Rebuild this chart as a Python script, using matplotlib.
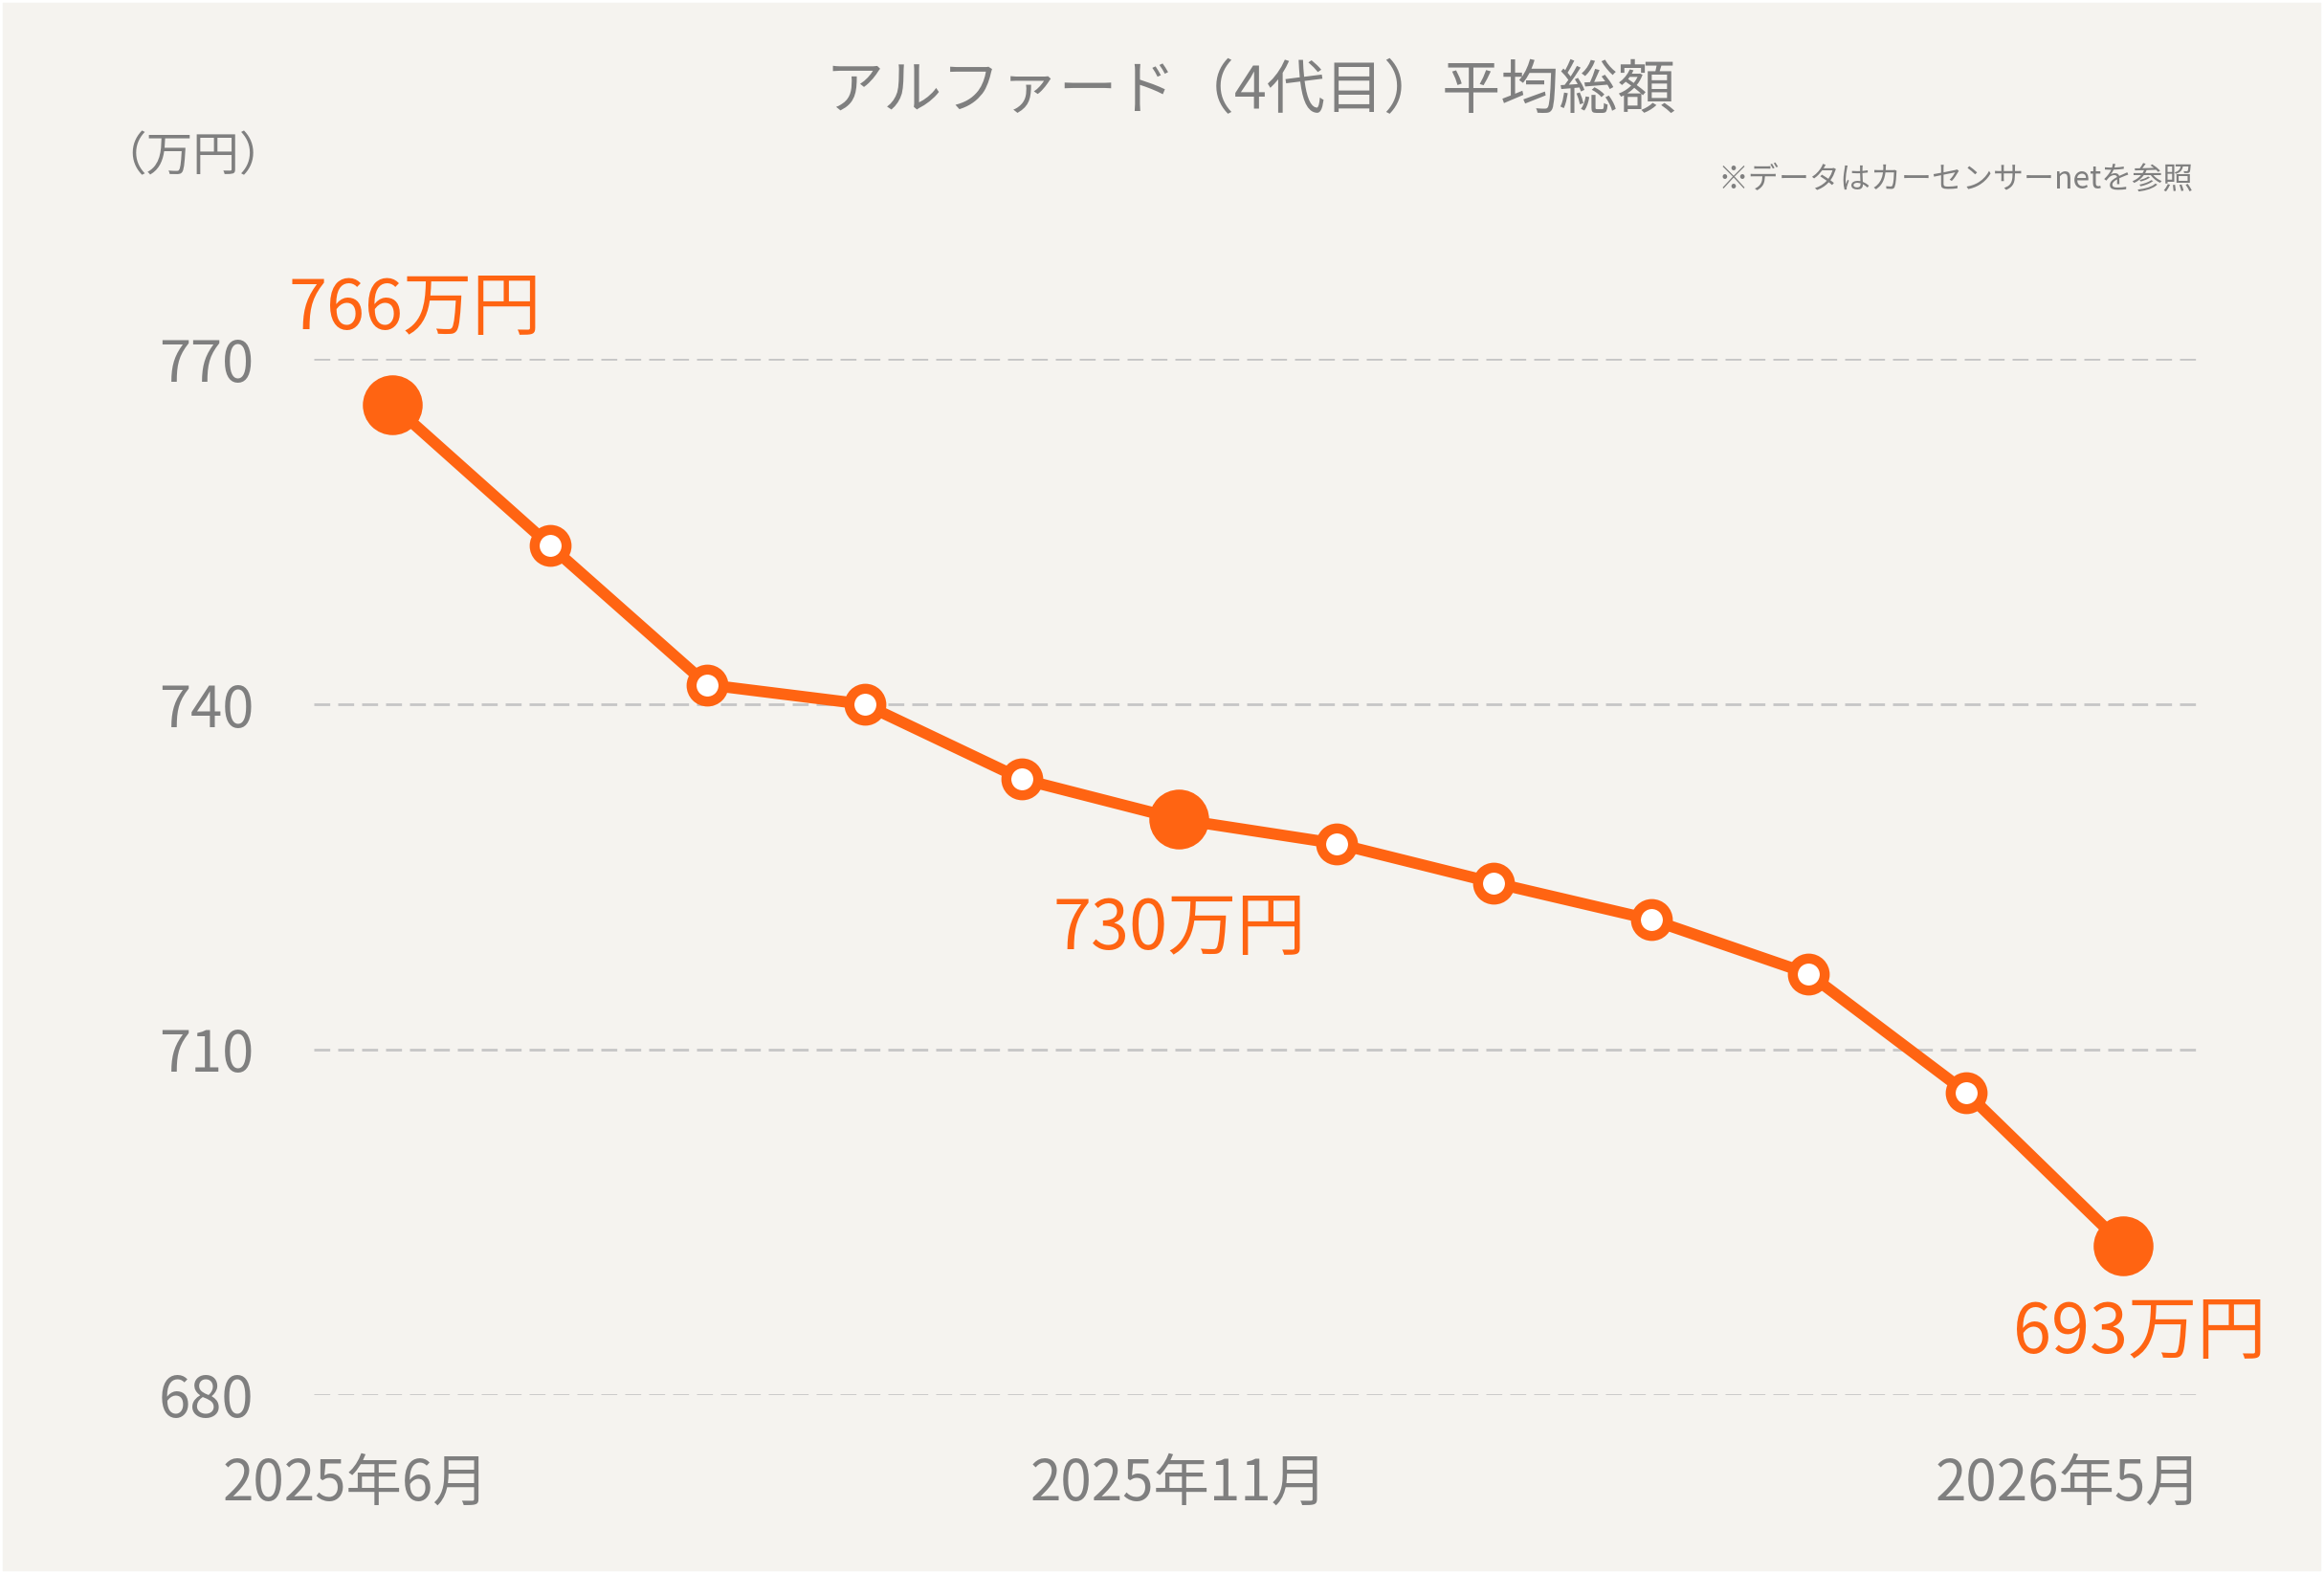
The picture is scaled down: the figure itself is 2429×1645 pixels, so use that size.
import matplotlib.pyplot as plt
import matplotlib.transforms as mtransforms
from matplotlib.patches import Rectangle

plt.rcParams['font.family'] = ['Noto Sans CJK JP', 'DejaVu Sans']

# データ（万円）
months = ['2025年6月', '2025年7月', '2025年8月', '2025年9月', '2025年10月', '2025年11月',
          '2025年12月', '2026年1月', '2026年2月', '2026年3月', '2026年4月', '2026年5月']
values = [766, 753.8, 741.7, 740, 733.5, 730, 727.9, 724.5, 721.3, 716.6, 706.3, 693]
highlight = [0, 5, 11]
label_ticks = [0, 5, 11]
yticks = [680, 710, 740, 770]

orange = '#ff6412'
gray = '#7f7f7f'
bg = '#f5f3ef'

fig = plt.figure(figsize=(24.29, 16.45), dpi=100, facecolor=bg)
fig.patches.append(Rectangle((0, 0), 1, 1, transform=fig.transFigure,
                             fill=False, edgecolor='white', linewidth=4))
ax = fig.add_axes([0.135, 0.1137, 0.8125, 0.6583])
ax.set_facecolor(bg)

x = list(range(len(values)))
ax.plot(x, values, color=orange, linewidth=8.5, marker='o', markersize=24,
        markerfacecolor='white', markeredgecolor=orange, markeredgewidth=7.5,
        zorder=3, clip_on=False)
ax.plot([x[i] for i in highlight], [values[i] for i in highlight], 'o',
        markersize=44, color=orange, zorder=4, clip_on=False)

# 注目ポイントのラベル
offsets = {0: (17, 72), 5: (0, -83), 11: (12, -66)}
for i in highlight:
    ax.annotate(f'{values[i]:.0f}万円', (x[i], values[i]), xytext=offsets[i],
                textcoords='offset points', ha='center', va='center',
                fontsize=52, color=orange, zorder=5)

ax.set_xlim(-0.5, 11.5)
ax.set_ylim(680, 770)
ax.set_yticks(yticks)
ax.set_xticks(label_ticks)
ax.set_xticklabels([months[i] for i in label_ticks])
ax.yaxis.grid(True, linestyle=(0, (6, 3)), color='#c6c6c6', linewidth=2)
ax.set_axisbelow(True)
for s in ax.spines.values():
    s.set_visible(False)
ax.tick_params(axis='y', length=0, labelsize=43, labelcolor=gray, pad=45)
ax.tick_params(axis='x', length=0, labelsize=42, labelcolor=gray, pad=45)

# 端のラベル位置の調整
shifts = [-38, 0, -57]
for lab, dx in zip(ax.get_xticklabels(), shifts):
    lab.set_transform(lab.get_transform() +
                      mtransforms.ScaledTranslation(dx / 100, 0, fig.dpi_scale_trans))

fig.text(0.538, 0.9416, 'アルファード（4代目）平均総額', ha='center', va='center',
         fontsize=44, color=gray)
fig.text(0.083, 0.9, '（万円）', ha='center', va='center', fontsize=35, color=gray)
fig.text(0.944, 0.886, '※データはカーセンサーnetを参照', ha='right', va='center',
         fontsize=23, color=gray)

fig.savefig('out.png', dpi=100, facecolor=bg)
